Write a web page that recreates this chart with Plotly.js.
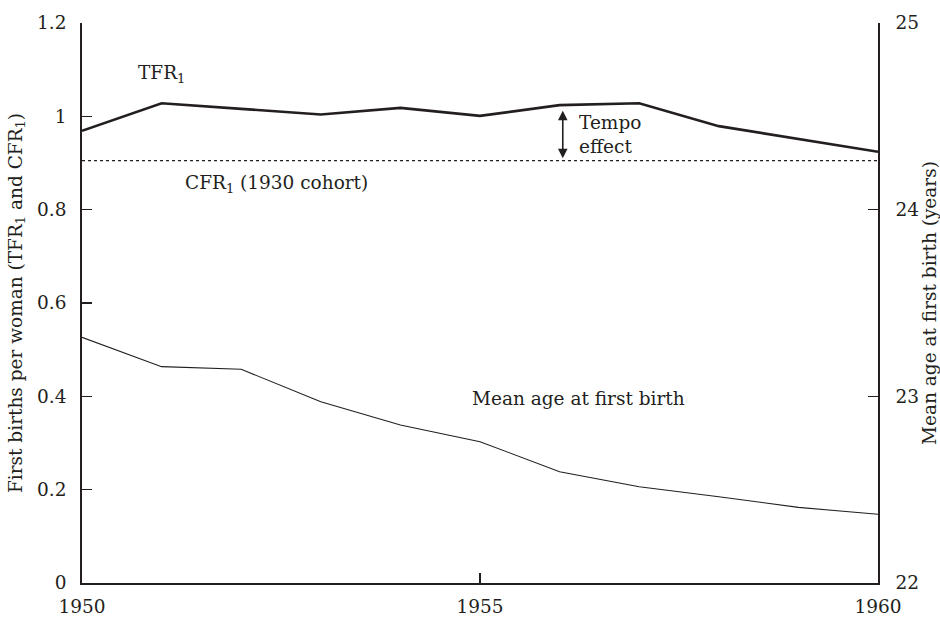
<!DOCTYPE html>
<html>
<head>
<meta charset="utf-8">
<script src="https://cdn.plot.ly/plotly-3.0.1.min.js"></script>
<style>html,body{margin:0;padding:0;background:#fff;}#chart{width:940px;height:621px;}</style>
</head>
<body>
<div id="chart"></div>
<script>
const years = [1950, 1951, 1952, 1953, 1954, 1955, 1956, 1957, 1958, 1959, 1960];
const tfr1 = [0.969, 1.028, 1.016, 1.004, 1.018, 1.001, 1.024, 1.028, 0.979, 0.951, 0.924];
const cfr1 = 0.905;
const meanAge = [23.316, 23.159, 23.145, 22.971, 22.846, 22.757, 22.596, 22.516, 22.462, 22.405, 22.368];
const leftTicks = [0, 0.2, 0.4, 0.6, 0.8, 1, 1.2];
const leftTickLabels = ['0', '0.2', '0.4', '0.6', '0.8', '1', '1.2'];
const rightTicks = [22, 23, 24, 25];
const xTicks = [1950, 1955, 1960];

const FONT = 'DejaVu Serif, Liberation Serif, serif';
const ink = '#231f20';
const FS = 18.5;

const traces = [
  {x: years, y: tfr1, type: 'scatter', mode: 'lines', line: {color: ink, width: 2.6}, hoverinfo: 'skip'},
  {x: [years[0], years[years.length-1]], y: [cfr1, cfr1], type: 'scatter', mode: 'lines', line: {color: ink, width: 1.2, dash: 'dot'}, hoverinfo: 'skip'},
  {x: years, y: meanAge, type: 'scatter', mode: 'lines', yaxis: 'y2', line: {color: ink, width: 1.1}, hoverinfo: 'skip'}
];

const layout = {
  width: 940, height: 621,
  margin: {l: 82, r: 62, t: 23, b: 38},
  paper_bgcolor: '#fff', plot_bgcolor: '#fff',
  showlegend: false,
  font: {family: FONT, size: FS, color: ink},
  xaxis: {
    range: [1950, 1960], tickvals: xTicks, ticktext: xTicks.map(String),
    ticks: 'inside', ticklen: 10, tickwidth: 1.2, tickcolor: ink, ticklabelstandoff: 6,
    showline: true, linecolor: ink, linewidth: 1.8, showgrid: false, zeroline: false,
    tickfont: {family: FONT, size: FS, color: ink}
  },
  yaxis: {
    range: [0, 1.2], tickvals: leftTicks, ticktext: leftTickLabels,
    ticks: 'inside', ticklen: 10, tickwidth: 1.2, tickcolor: ink, ticklabelstandoff: 10,
    showline: true, linecolor: ink, linewidth: 1.8, showgrid: false, zeroline: false,
    tickfont: {family: FONT, size: FS, color: ink},
    title: {text: 'First births per woman (TFR<sub>1</sub> and CFR<sub>1</sub>)', font: {family: FONT, size: FS, color: ink}, standoff: 10}
  },
  yaxis2: {
    range: [22, 25], tickvals: rightTicks, ticktext: rightTicks.map(String),
    overlaying: 'y', side: 'right',
    ticks: 'inside', ticklen: 10, tickwidth: 1.2, tickcolor: ink, ticklabelstandoff: 12,
    showline: true, linecolor: ink, linewidth: 1.8, showgrid: false, zeroline: false,
    tickfont: {family: FONT, size: FS, color: ink},
    title: {text: 'Mean age at first birth (years)', font: {family: FONT, size: FS, color: ink}, standoff: 5}
  },
  annotations: [
    {x: 1950.68, y: 1.09, xref: 'x', yref: 'y', text: 'TFR<sub>1</sub>', showarrow: false, xanchor: 'left', yanchor: 'middle', font: {family: FONT, size: FS, color: ink}},
    {x: 1951.27, y: 0.855, xref: 'x', yref: 'y', text: 'CFR<sub>1</sub> (1930 cohort)', showarrow: false, xanchor: 'left', yanchor: 'middle', font: {family: FONT, size: FS, color: ink}},
    {x: 1954.88, y: 22.99, xref: 'x', yref: 'y2', text: 'Mean age at first birth', showarrow: false, xanchor: 'left', yanchor: 'middle', font: {family: FONT, size: FS, color: ink}},
    {x: 1956.22, y: 0.962, xref: 'x', yref: 'y', text: 'Tempo<br>effect', showarrow: false, xanchor: 'left', yanchor: 'middle', align: 'left', font: {family: FONT, size: FS, color: ink}},
    {x: 1956.04, y: 1.012, ax: 1956.04, ay: 0.907, xref: 'x', yref: 'y', axref: 'x', ayref: 'y', text: '', showarrow: true, arrowside: 'end+start', arrowhead: 2, arrowsize: 1.2, arrowwidth: 1.6, arrowcolor: ink}
  ]
};

Plotly.newPlot('chart', traces, layout, {displayModeBar: false, staticPlot: true});
</script>
</body>
</html>
